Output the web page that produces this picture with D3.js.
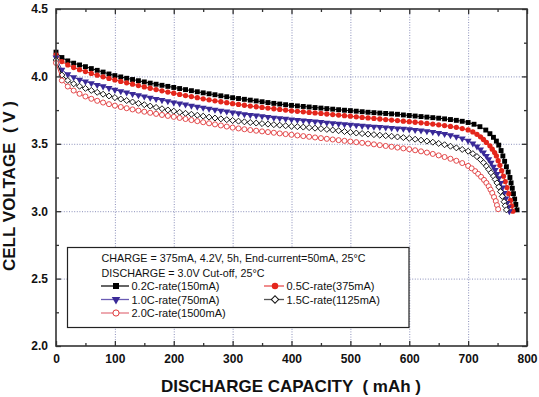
<html>
<head>
<script src="https://cdnjs.cloudflare.com/ajax/libs/d3/7.8.5/d3.min.js"></script>
<style>
  body { margin: 0; background: #fff; }
  text { font-family: "Liberation Sans", Arial, sans-serif; }
</style>
</head>
<body>
<script>

// discharge curves, [capacity mAh, voltage V]
var rate02 = [[0,4.18],[10,4.14],[20,4.115],[30,4.098],[40,4.085],[50,4.072],[60,4.058],[70,4.045],[80,4.032],[90,4.018],[100,4.006],[110,3.996],[120,3.986],[130,3.977],[140,3.968],[150,3.959],[160,3.950],[170,3.942],[180,3.934],[190,3.926],[200,3.918],[210,3.910],[220,3.902],[230,3.894],[240,3.886],[250,3.878],[260,3.871],[270,3.864],[280,3.856],[290,3.849],[300,3.842],[310,3.836],[320,3.830],[330,3.824],[340,3.818],[350,3.812],[360,3.806],[370,3.800],[380,3.795],[390,3.790],[400,3.785],[410,3.781],[420,3.777],[430,3.773],[440,3.769],[450,3.765],[460,3.761],[470,3.757],[480,3.753],[490,3.749],[500,3.746],[510,3.742],[520,3.738],[530,3.734],[540,3.731],[550,3.728],[560,3.725],[570,3.722],[580,3.719],[590,3.714],[600,3.710],[610,3.706],[620,3.702],[630,3.698],[640,3.694],[650,3.690],[660,3.685],[670,3.680],[680,3.674],[690,3.667],[700,3.658],[710,3.645],[720,3.627],[730,3.602],[737,3.575],[743,3.548],[748,3.52],[752,3.49],[756,3.45],[759,3.41],[762,3.37],[765,3.33],[768,3.29],[771,3.25],[773,3.21],[775,3.17],[777,3.13],[779,3.09],[781,3.05],[783,3.01]];

var rate05 = [[0,4.16],[10,4.11],[20,4.085],[30,4.066],[40,4.05],[50,4.036],[60,4.022],[70,4.009],[80,3.997],[90,3.985],[100,3.974],[110,3.963],[120,3.952],[130,3.942],[140,3.932],[150,3.922],[160,3.912],[170,3.902],[180,3.893],[190,3.884],[200,3.875],[210,3.866],[220,3.858],[230,3.850],[240,3.842],[250,3.834],[260,3.826],[270,3.819],[280,3.812],[290,3.805],[300,3.798],[310,3.792],[320,3.786],[330,3.780],[340,3.775],[350,3.770],[360,3.765],[370,3.760],[380,3.755],[390,3.750],[400,3.745],[410,3.741],[420,3.737],[430,3.733],[440,3.729],[450,3.725],[460,3.721],[470,3.717],[480,3.713],[490,3.709],[500,3.705],[510,3.700],[520,3.696],[530,3.692],[540,3.688],[550,3.684],[560,3.680],[570,3.676],[580,3.672],[590,3.668],[600,3.664],[610,3.660],[620,3.656],[630,3.651],[640,3.646],[650,3.641],[660,3.635],[670,3.629],[680,3.622],[690,3.613],[700,3.603],[708,3.588],[715,3.570],[721,3.552],[726,3.532],[731,3.51],[737,3.485],[741,3.46],[745,3.435],[748,3.41],[751,3.375],[754,3.34],[757,3.30],[760,3.26],[763,3.22],[766,3.175],[769,3.13],[772,3.08],[774,3.04],[776,3.00]];

var rate10 = [[0,4.14],[10,4.05],[20,4.015],[30,3.993],[40,3.976],[50,3.962],[60,3.949],[70,3.937],[80,3.926],[90,3.913],[100,3.900],[110,3.890],[120,3.880],[130,3.870],[140,3.860],[150,3.851],[160,3.842],[170,3.833],[180,3.824],[190,3.815],[200,3.807],[210,3.799],[220,3.791],[230,3.783],[240,3.775],[250,3.767],[260,3.760],[270,3.753],[280,3.746],[290,3.739],[300,3.732],[310,3.726],[320,3.720],[330,3.714],[340,3.709],[350,3.704],[360,3.699],[370,3.694],[380,3.689],[390,3.685],[400,3.681],[410,3.677],[420,3.673],[430,3.669],[440,3.665],[450,3.661],[460,3.657],[470,3.653],[480,3.649],[490,3.645],[500,3.641],[510,3.637],[520,3.633],[530,3.630],[540,3.627],[550,3.624],[560,3.621],[570,3.618],[580,3.614],[590,3.611],[600,3.607],[610,3.603],[620,3.598],[630,3.593],[640,3.587],[650,3.580],[660,3.572],[670,3.563],[680,3.552],[690,3.539],[700,3.522],[708,3.502],[715,3.48],[721,3.457],[726,3.435],[731,3.41],[735,3.385],[739,3.36],[743,3.33],[746,3.305],[749,3.275],[752,3.245],[755,3.21],[758,3.175],[761,3.135],[764,3.095],[766,3.06],[768,3.03],[770,3.00]];

var rate15 = [[0,4.12],[10,4.01],[20,3.97],[30,3.945],[40,3.927],[50,3.911],[60,3.896],[70,3.882],[80,3.868],[90,3.855],[100,3.843],[110,3.832],[120,3.821],[130,3.810],[140,3.800],[150,3.790],[160,3.780],[170,3.770],[180,3.760],[190,3.751],[200,3.742],[210,3.734],[220,3.726],[230,3.719],[240,3.712],[250,3.705],[260,3.698],[270,3.691],[280,3.685],[290,3.679],[300,3.673],[310,3.668],[320,3.663],[330,3.658],[340,3.654],[350,3.650],[360,3.646],[370,3.642],[380,3.638],[390,3.634],[400,3.630],[410,3.627],[420,3.624],[430,3.620],[440,3.616],[450,3.612],[460,3.607],[470,3.602],[480,3.597],[490,3.591],[500,3.585],[510,3.580],[520,3.576],[530,3.572],[540,3.568],[550,3.564],[560,3.560],[570,3.556],[580,3.551],[590,3.546],[600,3.540],[610,3.534],[620,3.527],[630,3.520],[640,3.512],[650,3.503],[660,3.493],[670,3.482],[680,3.470],[690,3.458],[700,3.445],[708,3.427],[715,3.405],[721,3.383],[726,3.36],[731,3.335],[735,3.31],[739,3.285],[743,3.26],[746,3.235],[749,3.21],[752,3.18],[755,3.145],[758,3.11],[761,3.07],[763,3.04],[765,3.01]];

var rate20 = [[0,4.10],[10,3.97],[20,3.925],[30,3.895],[40,3.871],[50,3.851],[60,3.834],[70,3.819],[80,3.806],[90,3.794],[100,3.783],[110,3.773],[120,3.764],[130,3.755],[140,3.746],[150,3.738],[160,3.730],[170,3.722],[180,3.714],[190,3.707],[200,3.700],[210,3.692],[220,3.684],[230,3.676],[240,3.668],[250,3.660],[260,3.652],[270,3.644],[280,3.636],[290,3.628],[300,3.620],[310,3.614],[320,3.608],[330,3.602],[340,3.597],[350,3.592],[360,3.587],[370,3.582],[380,3.577],[390,3.572],[400,3.567],[410,3.562],[420,3.557],[430,3.552],[440,3.547],[450,3.542],[460,3.537],[470,3.532],[480,3.527],[490,3.522],[500,3.517],[510,3.512],[520,3.507],[530,3.502],[540,3.496],[550,3.490],[560,3.484],[570,3.478],[580,3.472],[590,3.466],[600,3.460],[610,3.452],[620,3.444],[630,3.435],[640,3.425],[650,3.414],[660,3.402],[670,3.389],[680,3.374],[690,3.357],[700,3.336],[706,3.318],[712,3.297],[717,3.277],[722,3.255],[727,3.232],[731,3.21],[735,3.185],[738,3.16],[741,3.135],[744,3.105],[747,3.075],[749,3.045],[751,3.015]];

var seriesLabels = ["0.2C-rate(150mA)", "0.5C-rate(375mA)", "1.0C-rate(750mA)", "1.5C-rate(1125mA)", "2.0C-rate(1500mA)"];
var noteLines = ["CHARGE = 375mA, 4.2V, 5h, End-current=50mA, 25\u00B0C", "DISCHARGE = 3.0V Cut-off, 25\u00B0C"];

var xTicks = [0, 100, 200, 300, 400, 500, 600, 700, 800];
var xMinor = [50, 150, 250, 350, 450, 550, 650, 750];
var yTicks = [2.0, 2.5, 3.0, 3.5, 4.0, 4.5];
var yMinor = [2.25, 2.75, 3.25, 3.75, 4.25];

var xTitle = "DISCHARGE CAPACITY  ( mAh )";
var yTitle = "CELL VOLTAGE  ( V )";

// ---- look of each series ----
var styles = [
  { data: rate02, line: "#000", symbol: d3.symbolSquare, size: 24, fill: "#000", stroke: "none", rot: 0, legLine: "#111" },
  { data: rate05, line: "#e4261c", symbol: d3.symbolCircle, size: 22, fill: "#e4261c", stroke: "none", rot: 0, legLine: "#e85050" },
  { data: rate10, line: "#3a2a98", symbol: d3.symbolTriangle, size: 21, fill: "#3a2a98", stroke: "none", rot: 180, legLine: "#6a5cb4" },
  { data: rate15, line: "#111", symbol: d3.symbolSquare, size: 18, fill: "#fff", stroke: "#111", rot: 45, legLine: "#555" },
  { data: rate20, line: "#e0383a", symbol: d3.symbolCircle, size: 20, fill: "#fff", stroke: "#e0383a", rot: 0, legLine: "#e37a86" }
];

var viz = { width: 539, height: 397 };
var plot = { left: 56, right: 527, top: 9, bottom: 346 };

var svg = d3.select("body").append("svg")
  .attr("width", viz.width)
  .attr("height", viz.height);

var x = d3.scaleLinear().domain([0, 800]).range([plot.left, plot.right]);
var y = d3.scaleLinear().domain([2.0, 4.5]).range([plot.bottom, plot.top]);

// dotted grid
var grid = svg.append("g").attr("stroke", "#8a8fba").attr("stroke-width", 1).attr("stroke-dasharray", "1,1.6");
grid.selectAll(".gx").data(xTicks.slice(1, -1)).enter().append("line")
  .attr("x1", function(d) { return x(d) + 0.5; }).attr("x2", function(d) { return x(d) + 0.5; })
  .attr("y1", plot.top).attr("y2", plot.bottom);
grid.selectAll(".gy").data(yTicks.slice(1, -1)).enter().append("line")
  .attr("y1", function(d) { return y(d) + 0.5; }).attr("y2", function(d) { return y(d) + 0.5; })
  .attr("x1", plot.left).attr("x2", plot.right);

// legend box sits on top of the grid, under the curves
var leg = svg.append("g");
leg.append("rect")
  .attr("x", 67.5).attr("y", 247.5).attr("width", 341.5).attr("height", 80)
  .attr("fill", "#fff").attr("stroke", "#222").attr("stroke-width", 1.2);

var noteWidths = [264, 163];
leg.selectAll(".note").data(noteLines).enter().append("text")
  .attr("x", 101.5)
  .attr("y", function(d, i) { return 262 + i * 15; })
  .attr("font-size", 10.8)
  .attr("textLength", function(d, i) { return noteWidths[i]; })
  .attr("lengthAdjust", "spacingAndGlyphs")
  .attr("fill", "#111")
  .text(function(d) { return d; });

var legPos = [[101, 286], [264, 286], [101, 299.5], [264, 299.5], [101, 313]];
styles.forEach(function(s, i) {
  var p = legPos[i];
  var lineLen = i % 2 == 0 ? 28 : 20;
  var g = leg.append("g").attr("transform", "translate(" + p[0] + "," + p[1] + ")");
  g.append("line").attr("x1", 0).attr("x2", lineLen).attr("y1", 0).attr("y2", 0)
    .attr("stroke", s.legLine).attr("stroke-width", 1.3);
  g.append("path")
    .attr("d", d3.symbol().type(s.symbol).size(s.size * 1.5)())
    .attr("transform", "translate(" + (lineLen / 2 + 1) + ",0) rotate(" + s.rot + ")")
    .attr("fill", s.fill).attr("stroke", s.stroke).attr("stroke-width", 1);
  g.append("text")
    .attr("x", lineLen + 2.5).attr("y", 4)
    .attr("font-size", 11).attr("fill", "#111")
    .text(seriesLabels[i]);
});

// curves: thin line under dense markers
var line = d3.line().x(function(d) { return x(d[0]); }).y(function(d) { return y(d[1]); });
styles.forEach(function(s) {
  var g = svg.append("g");
  g.append("path").datum(s.data).attr("d", line)
    .attr("fill", "none").attr("stroke", s.line).attr("stroke-width", 1);
  g.selectAll("path.m").data(s.data).enter().append("path")
    .attr("class", "m")
    .attr("d", d3.symbol().type(s.symbol).size(s.size)())
    .attr("transform", function(d) { return "translate(" + x(d[0]) + "," + y(d[1]) + ") rotate(" + s.rot + ")"; })
    .attr("fill", s.fill).attr("stroke", s.stroke).attr("stroke-width", 0.9);
});

// axes with inward ticks on all four sides
function styleAxis(g) {
  g.selectAll("path").remove();
  g.selectAll("line").attr("stroke", "#333").attr("stroke-width", 1.3);
  g.selectAll("text").attr("font-size", 12).attr("font-weight", "bold").attr("fill", "#111");
}

svg.append("g").attr("transform", "translate(0," + plot.bottom + ")")
  .call(d3.axisBottom(x).tickValues(xTicks).tickSize(-5).tickPadding(8).tickFormat(d3.format("d")))
  .call(styleAxis);
svg.append("g").attr("transform", "translate(0," + plot.bottom + ")")
  .call(d3.axisBottom(x).tickValues(xMinor).tickSize(-3).tickFormat(""))
  .call(styleAxis);
svg.append("g").attr("transform", "translate(0," + plot.top + ")")
  .call(d3.axisTop(x).tickValues(xTicks).tickSize(-5).tickFormat(""))
  .call(styleAxis);
svg.append("g").attr("transform", "translate(0," + plot.top + ")")
  .call(d3.axisTop(x).tickValues(xMinor).tickSize(-3).tickFormat(""))
  .call(styleAxis);

svg.append("g").attr("transform", "translate(" + plot.left + ",0)")
  .call(d3.axisLeft(y).tickValues(yTicks).tickSize(-5).tickPadding(8).tickFormat(d3.format(".1f")))
  .call(styleAxis);
svg.append("g").attr("transform", "translate(" + plot.left + ",0)")
  .call(d3.axisLeft(y).tickValues(yMinor).tickSize(-3).tickFormat(""))
  .call(styleAxis);
svg.append("g").attr("transform", "translate(" + plot.right + ",0)")
  .call(d3.axisRight(y).tickValues(yTicks).tickSize(-5).tickFormat(""))
  .call(styleAxis);
svg.append("g").attr("transform", "translate(" + plot.right + ",0)")
  .call(d3.axisRight(y).tickValues(yMinor).tickSize(-3).tickFormat(""))
  .call(styleAxis);

// frame
svg.append("rect")
  .attr("x", plot.left).attr("y", plot.top)
  .attr("width", plot.right - plot.left).attr("height", plot.bottom - plot.top)
  .attr("fill", "none").attr("stroke", "#333").attr("stroke-width", 1.6);

// axis titles
svg.append("text")
  .attr("x", 291).attr("y", 392)
  .attr("text-anchor", "middle")
  .attr("font-size", 17).attr("font-weight", "bold").attr("fill", "#111")
  .style("white-space", "pre")
  .text(xTitle);

svg.append("text")
  .attr("transform", "translate(15,186) rotate(-90)")
  .attr("text-anchor", "middle")
  .attr("font-size", 17).attr("font-weight", "bold").attr("fill", "#111")
  .style("white-space", "pre")
  .text(yTitle);

</script>
</body>
</html>
